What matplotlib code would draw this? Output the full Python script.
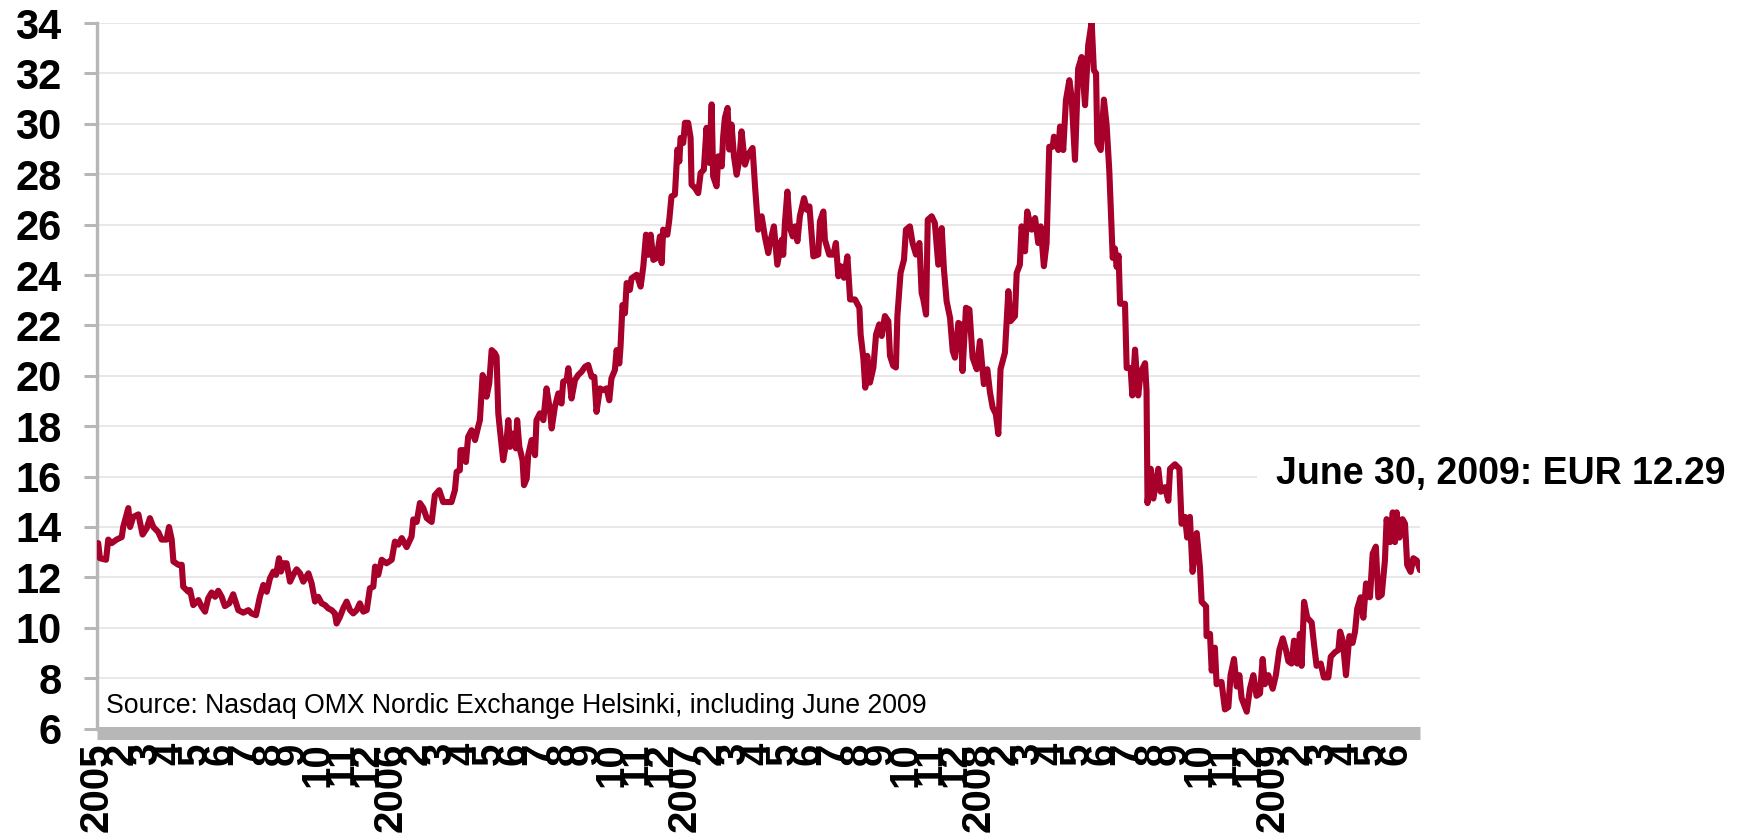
import matplotlib
matplotlib.use("Agg")
import matplotlib.pyplot as plt

plt.rcParams["font.family"] = ["Liberation Sans", "DejaVu Sans"]

# share price, x = months since 1 Jan 2005
months = [
    0.05, 0.12, 0.37, 0.46, 0.60, 0.80, 1.01, 1.07, 1.28, 1.35, 1.48, 1.69, 1.86, 2.03, 2.16, 2.30,
    2.50, 2.64, 2.84, 2.94, 3.05, 3.12, 3.32, 3.46, 3.52, 3.73, 3.80, 3.93, 4.14, 4.27, 4.41, 4.54,
    4.68, 4.82, 4.95, 5.09, 5.22, 5.40, 5.56, 5.77, 5.97, 6.18, 6.31, 6.49, 6.65, 6.79, 6.93, 7.06,
    7.20, 7.31, 7.43, 7.51, 7.61, 7.74, 7.88, 8.01, 8.15, 8.29, 8.42, 8.63, 8.76, 8.90, 9.03, 9.17,
    9.31, 9.44, 9.58, 9.71, 9.78, 9.92, 10.05, 10.19, 10.33, 10.46, 10.60, 10.73, 10.87, 11.01, 11.14,
    11.28, 11.35, 11.48, 11.62, 11.82, 12.03, 12.16, 12.30, 12.44, 12.64, 12.84, 12.91, 13.05, 13.18,
    13.32, 13.46, 13.66, 13.79, 13.97, 14.13, 14.47, 14.61, 14.68, 14.81, 14.84, 15.02, 15.06, 15.15,
    15.29, 15.43, 15.56, 15.63, 15.74, 15.83, 15.90, 16.01, 16.11, 16.24, 16.31, 16.38, 16.45, 16.58,
    16.72, 16.79, 16.86, 16.99, 17.10, 17.15, 17.24, 17.37, 17.43, 17.54, 17.60, 17.74, 17.88, 17.94,
    18.08, 18.22, 18.35, 18.49, 18.56, 18.69, 18.83, 18.96, 19.03, 19.17, 19.24, 19.37, 19.51, 19.64,
    19.78, 19.92, 20.05, 20.19, 20.30, 20.39, 20.53, 20.66, 20.80, 20.91, 21.00, 21.14, 21.21, 21.32,
    21.37, 21.45, 21.55, 21.62, 21.75, 21.82, 22.03, 22.19, 22.30, 22.41, 22.50, 22.60, 22.71, 22.84,
    22.98, 23.05, 23.11, 23.28, 23.36, 23.45, 23.59, 23.69, 23.77, 23.82, 23.93, 24.00, 24.13, 24.23,
    24.27, 24.41, 24.54, 24.64, 24.77, 24.88, 24.99, 25.09, 25.15, 25.29, 25.36, 25.50, 25.56, 25.63,
    25.74, 25.81, 25.90, 26.00, 26.11, 26.22, 26.31, 26.45, 26.58, 26.76, 26.86, 26.99, 27.13, 27.26,
    27.40, 27.47, 27.63, 27.77, 27.95, 28.01, 28.08, 28.18, 28.29, 28.40, 28.49, 28.59, 28.69, 28.86,
    28.97, 29.08, 29.24, 29.44, 29.51, 29.65, 29.71, 29.89, 30.06, 30.16, 30.26, 30.35, 30.49, 30.63,
    30.74, 30.94, 31.12, 31.17, 31.28, 31.36, 31.44, 31.55, 31.69, 31.80, 31.93, 32.03, 32.16, 32.30,
    32.37, 32.50, 32.61, 32.67, 32.80, 32.94, 33.02, 33.18, 33.29, 33.43, 33.57, 33.66, 33.73, 33.84,
    33.91, 34.07, 34.20, 34.34, 34.48, 34.57, 34.68, 34.82, 34.93, 35.02, 35.16, 35.25, 35.33, 35.47,
    35.61, 35.74, 35.91, 36.04, 36.20, 36.34, 36.45, 36.56, 36.69, 36.79, 36.88, 37.06, 37.20, 37.29,
    37.47, 37.54, 37.67, 37.74, 37.88, 37.97, 38.15, 38.29, 38.42, 38.52, 38.65, 38.76, 38.87, 39.01,
    39.06, 39.24, 39.31, 39.44, 39.55, 39.69, 39.78, 39.92, 40.05, 40.19, 40.33, 40.46, 40.60, 40.69,
    40.78, 40.83, 40.97, 41.10, 41.21, 41.32, 41.42, 41.46, 41.55, 41.62, 41.70, 41.76, 41.96, 42.03,
    42.19, 42.26, 42.37, 42.50, 42.60, 42.78, 42.84, 42.88, 43.01, 43.12, 43.32, 43.42, 43.59, 43.73,
    43.80, 44.00, 44.18, 44.27, 44.41, 44.50, 44.61, 44.72, 44.89, 45.02, 45.09, 45.27, 45.29, 45.43,
    45.50, 45.63, 45.70, 45.90, 46.04, 46.18, 46.27, 46.41, 46.52, 46.63, 46.72, 46.93, 47.06, 47.20,
    47.33, 47.47, 47.58, 47.67, 47.81, 47.99, 48.12, 48.26, 48.40, 48.53, 48.63, 48.76, 48.86, 48.99,
    49.10, 49.17, 49.27, 49.40, 49.58, 49.67, 49.78, 49.95, 50.08, 50.26, 50.36, 50.53, 50.67, 50.74,
    50.85, 50.98, 51.12, 51.25, 51.35, 51.44, 51.58, 51.69, 51.80, 51.96, 52.07, 52.20, 52.30, 52.44,
    52.57, 52.64, 52.78, 52.89, 52.98, 53.05, 53.16, 53.29, 53.39, 53.48, 53.62, 53.73, 53.87, 54.00,
]
price = [
    13.36, 12.76, 12.70, 13.50, 13.36, 13.50, 13.60, 14.00, 14.75, 14.00, 14.40, 14.50, 13.70, 13.95, 14.35, 14.00,
    13.80, 13.50, 13.50, 14.00, 13.50, 12.63, 12.50, 12.50, 11.63, 11.43, 11.50, 10.90, 11.10, 10.84, 10.64, 11.17,
    11.40, 11.23, 11.47, 11.23, 10.86, 10.97, 11.33, 10.70, 10.60, 10.70, 10.57, 10.50, 11.23, 11.70, 11.43, 11.96,
    12.23, 12.10, 12.76, 12.23, 12.56, 12.56, 11.83, 12.10, 12.32, 12.16, 11.83, 12.16, 11.77, 11.04, 11.23, 10.97,
    10.90, 10.77, 10.70, 10.57, 10.17, 10.44, 10.77, 11.04, 10.70, 10.57, 10.70, 10.97, 10.64, 10.70, 11.57,
    11.63, 12.43, 12.10, 12.70, 12.56, 12.70, 13.42, 13.30, 13.56, 13.20, 13.62, 14.30, 14.20, 14.95,
    14.75, 14.35, 14.20, 15.26, 15.46, 14.99, 14.99, 15.46, 16.19, 16.25, 17.05, 17.05, 16.58, 17.58,
    17.84, 17.45, 17.98, 18.24, 20.03, 19.83, 19.17, 19.70, 21.02, 20.90, 20.76, 18.51, 17.84, 16.65,
    17.45, 18.24, 17.18, 17.71, 17.12, 18.24, 17.18, 16.65, 15.66, 15.92, 16.85, 17.45, 16.85, 18.24,
    18.51, 18.24, 19.50, 18.64, 17.91, 18.77, 19.30, 18.90, 19.77, 19.83, 20.30, 19.10, 19.83, 20.03,
    20.16, 20.36, 20.43, 19.96, 19.96, 18.57, 19.50, 19.43, 19.50, 19.03, 19.90, 20.23, 21.02, 20.49,
    21.16, 22.81, 22.48, 23.68, 23.41, 23.87, 24.01, 23.54, 24.34, 25.60, 24.80, 25.60, 24.60, 24.67,
    25.53, 24.47, 25.80, 25.60, 26.19, 27.12, 27.19, 28.98, 28.51, 29.44, 29.24, 30.04, 30.04, 29.44,
    27.59, 27.45, 27.25, 28.05, 28.18, 29.84, 28.45, 30.77, 27.92, 27.52, 28.71, 28.31, 29.50, 30.24,
    30.63, 28.98, 29.97, 28.71, 27.98, 28.58, 29.70, 28.38, 28.78, 29.04, 27.52, 25.80, 26.33, 25.53,
    24.87, 25.27, 25.93, 24.41, 25.40, 24.80, 26.06, 27.31, 25.86, 25.53, 25.93, 25.34, 26.33, 27.05,
    26.59, 26.72, 24.74, 24.81, 26.13, 26.52, 25.40, 24.81, 24.81, 25.27, 23.95, 24.35, 23.89, 24.74,
    23.03, 23.03, 22.70, 21.64, 20.72, 19.53, 20.79, 19.73, 20.32, 21.64, 22.04, 21.58, 22.37, 22.17,
    20.79, 20.40, 20.33, 22.37, 24.08, 24.61, 25.80, 25.93, 25.27, 24.81, 25.27, 23.29, 23.03, 22.43,
    26.19, 26.33, 26.06, 24.41, 25.86, 24.22, 22.96, 22.30, 20.98, 20.72, 22.10, 22.04, 20.19, 22.70,
    22.63, 20.72, 20.26, 21.38, 19.67, 20.26, 19.34, 18.74, 18.48, 17.69, 20.26, 20.92, 23.36, 22.17,
    22.37, 24.08, 24.41, 25.93, 24.94, 26.52, 25.80, 26.26, 25.27, 25.93, 24.35, 25.27, 29.09, 29.09,
    29.49, 28.96, 29.89, 28.96, 30.94, 31.73, 31.07, 28.57, 32.19, 32.65, 30.74, 33.12, 34.04, 32.13,
    32.00, 29.23, 28.96, 30.96, 29.96, 28.14, 25.59, 24.68, 25.05, 24.32, 24.77, 22.86, 22.86, 20.31,
    20.31, 19.22, 21.04, 19.22, 20.13, 20.50, 19.40, 14.95, 16.31, 15.13, 16.31, 15.40, 15.58, 15.04,
    16.31, 16.49, 16.31, 14.13, 14.40, 13.58, 14.40, 12.22, 13.76, 12.40, 11.03, 10.85, 9.67, 9.76,
    8.30, 9.21, 7.76, 7.85, 6.76, 6.85, 8.12, 8.76, 7.67, 8.12, 7.21, 6.67, 7.58, 8.12,
    7.30, 7.39, 8.76, 7.76, 8.12, 7.58, 8.12, 9.12, 9.58, 9.12, 8.67, 8.58, 9.49, 8.58,
    9.76, 8.49, 11.03, 10.40, 10.21, 9.40, 8.49, 8.58, 8.03, 8.03, 8.85, 9.03, 9.12, 9.85,
    9.49, 8.12, 9.67, 9.40, 9.85, 10.76, 11.21, 10.40, 11.76, 11.21, 12.94, 13.22, 11.21, 11.31,
    12.67, 14.31, 13.40, 14.58, 13.40, 14.58, 13.58, 14.31, 14.13, 12.49, 12.22, 12.76, 12.67, 12.29,
]

first_year = 2005
n_months = 54
tick_labels = [str(first_year + i // 12) if i % 12 == 0 else str(i % 12 + 1) for i in range(n_months)]

source_note = "Source: Nasdaq OMX Nordic Exchange Helsinki, including June 2009"
last_note = "June 30, 2009: EUR 12.29"

line_color = "#A6002B"
axis_gray = "#B7B7B7"


def main():
    fig = plt.figure(figsize=(17.38, 8.34), dpi=100)
    ax = fig.add_axes([0.0558, 0.1264, 0.7612, 0.846])

    ax.plot(months, price, color=line_color, lw=4.4, solid_joinstyle="round",
            solid_capstyle="round", zorder=3)

    ax.set_xlim(0, n_months)
    ax.set_ylim(6, 34)

    for side in ("top", "right"):
        ax.spines[side].set_visible(False)
    ax.spines["left"].set_color(axis_gray)
    ax.spines["left"].set_linewidth(2.4)
    ax.spines["bottom"].set_color(axis_gray)
    ax.spines["bottom"].set_linewidth(9.4)
    ax.spines["bottom"].set_capstyle("butt")
    ax.spines["bottom"].set_position(("outward", 3.2))

    ax.tick_params(axis="y", length=9.5, width=2.2, color=axis_gray, pad=16, labelsize=30)
    ax.tick_params(axis="x", length=0, pad=7, labelsize=29, labelrotation=90)

    ax.set_yticks(range(6, 35, 2))
    ax.set_xticks(range(n_months))
    ax.set_xticklabels(tick_labels, fontweight="bold", va="top", ha="center")
    for lbl in ax.get_yticklabels():
        lbl.set_fontweight("bold")

    ax.grid(axis="y", color="#E6E6E6", lw=1.3)
    ax.set_axisbelow(True)

    ax.text(0.007, 0.022, source_note, transform=ax.transAxes, fontsize=19.2,
            va="baseline", ha="left")
    ax.text(0.891, 0.3467, last_note, transform=ax.transAxes, fontsize=27,
            fontweight="bold", va="baseline", ha="left", zorder=1.5,
            bbox=dict(boxstyle="square,pad=0.5", fc="white", ec="none"))

    fig.savefig("out.png", dpi=100)
    plt.close(fig)


if __name__ == "__main__":
    main()
